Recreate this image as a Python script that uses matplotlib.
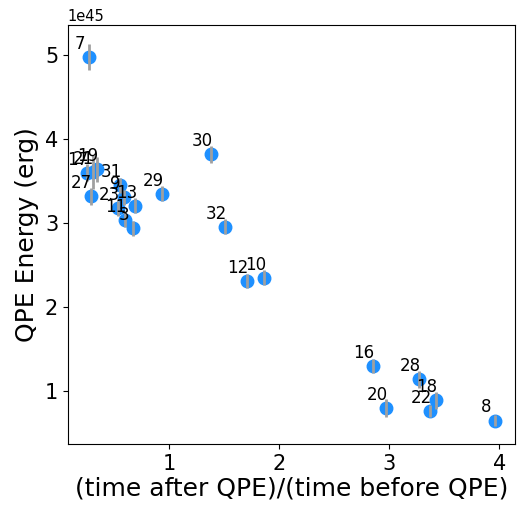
import numpy as np
import matplotlib
matplotlib.use('Agg')
import matplotlib.pyplot as plt

# QPE number, time ratio (after/before), energy (1e45 erg) and energy error
qpe_id = [7, 30, 32, 12, 10, 16, 28, 20, 22, 18, 8,
          29, 27, 13, 3, 11, 23, 9, 31, 17, 21, 19]
ratio = [0.27, 1.385, 1.51, 1.706, 1.864, 2.85, 3.27, 2.97, 3.37, 3.42, 3.96,
         0.936, 0.288, 0.695, 0.673, 0.597, 0.534, 0.588, 0.552, 0.252, 0.306, 0.343]
energy = [4.98, 3.82, 2.96, 2.31, 2.35, 1.30, 1.14, 0.80, 0.76, 0.89, 0.65,
          3.35, 3.32, 3.21, 2.94, 3.04, 3.18, 3.31, 3.45, 3.60, 3.61, 3.64]
energy_err = [0.155, 0.10, 0.09, 0.08, 0.09, 0.08, 0.10, 0.11, 0.07, 0.10, 0.07,
              0.09, 0.10, 0.09, 0.09, 0.09, 0.09, 0.09, 0.09, 0.10, 0.20, 0.15]

x = np.array(ratio)
y = np.array(energy) * 1e45
yerr = np.array(energy_err) * 1e45

fig = plt.figure(figsize=(5.18, 5.11), dpi=100)
ax = fig.add_axes([0.131, 0.131, 0.863, 0.82])

ax.plot(x, y, 'o', color='#1E90FF', ms=9, zorder=2)
ax.errorbar(x, y, yerr=yerr, fmt='none', ecolor='#a0a0a0', elinewidth=2, zorder=3)

for n, xi, yi in zip(qpe_id, x, y):
    ax.annotate(str(n), (xi, yi), xytext=(-6.3, 5.8), textcoords='offset points',
                ha='center', va='baseline', fontsize=12)

ax.set_xlim(0.082, 4.14)
ax.set_ylim(0.37e45, 5.36e45)
ax.set_xticks([1, 2, 3, 4])
ax.set_yticks(np.array([1, 2, 3, 4, 5]) * 1e45)
ax.tick_params(labelsize=15)
ax.yaxis.get_offset_text().set_fontsize(10.5)
ax.set_xlabel('(time after QPE)/(time before QPE)', fontsize=18, labelpad=2)
ax.set_ylabel('QPE Energy (erg)', fontsize=18)

fig.savefig('out.png', dpi=100)
